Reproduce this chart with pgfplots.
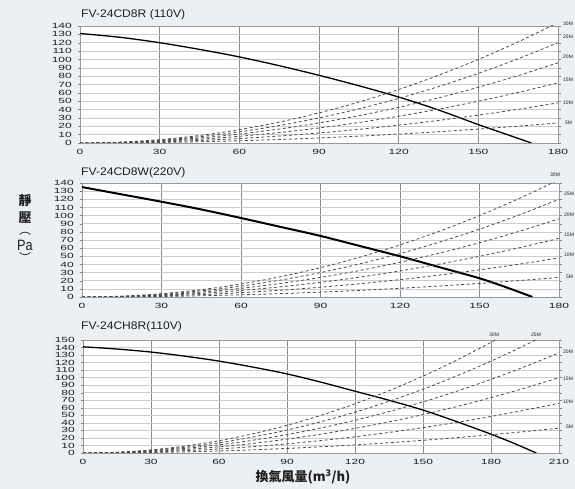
\documentclass[border=0pt]{standalone}
\usepackage{pgfplots}
\pgfplotsset{compat=1.18}
\usepackage{fontspec}
\setmainfont{Liberation Sans}
\newfontfamily\cjk{Noto Sans CJK TC}

\definecolor{bg}{RGB}{237,240,243}
\definecolor{gridh}{RGB}{205,205,205}
\definecolor{gridv}{RGB}{140,140,140}
\definecolor{txt}{RGB}{30,30,30}
\definecolor{dsh}{RGB}{75,75,75}

\pgfplotsset{
  fan/.style={
    scale only axis, anchor=south west,
    axis background/.style={fill=white},
    axis line style={draw=gray!80},
    grid=major,
    x grid style={gridv, line width=0.5pt},
    y grid style={gridh, line width=0.5pt},
    tick align=outside, major tick length=2.5pt,
    xtick style={draw=none},
    ytick style={draw=gray, thin},
    /pgf/number format/assume math mode=true,
    ticklabel style={font=\fontsize{7.5}{8}\selectfont, xscale=1.6, text=txt},
    xmin=0, ymin=0,
  },
  pipe/.style={dsh, line width=0.8pt, dash pattern=on 3pt off 2.5pt, smooth},
  pq/.style={black, line width=1.3pt, smooth},
}

\begin{document}
\begin{tikzpicture}[x=1pt, y=1pt]
\fill[bg] (0,0) rectangle (575,489);

% ---- FV-24CD8R (110V)
\begin{axis}[fan, at={(80pt,346pt)}, width=478pt, height=117pt,
  xmax=180, ymax=140, xtick={0,30,...,180}, ytick={0,10,...,140}]
  \addplot[pq] coordinates {(0,131) (15,126.5) (30,120) (45,112) (60,103) (75,92.5) (90,81) (105,68.5) (120,55) (135,39.5) (150,22) (160,11) (170,0)};
  \addplot[pipe] coordinates {(0,0) (15,0.17) (30,0.67) (45,1.5) (60,2.67) (75,4.17) (90,6) (105,8.17) (120,10.67) (135,13.5) (150,16.67) (165,20.17) (180,24)};
  \addplot[pipe] coordinates {(0,0) (15,0.33) (30,1.33) (45,3) (60,5.33) (75,8.33) (90,12) (105,16.33) (120,21.33) (135,27) (150,33.33) (165,40.33) (180,48)};
  \addplot[pipe] coordinates {(0,0) (15,0.5) (30,2) (45,4.5) (60,8) (75,12.5) (90,18) (105,24.5) (120,32) (135,40.5) (150,50) (165,60.5) (180,72)};
  \addplot[pipe] coordinates {(0,0) (15,0.67) (30,2.67) (45,6) (60,10.67) (75,16.67) (90,24) (105,32.67) (120,42.67) (135,54) (150,66.67) (165,80.67) (180,96)};
  \addplot[pipe] coordinates {(0,0) (15,0.83) (30,3.33) (45,7.5) (60,13.33) (75,20.83) (90,30) (105,40.83) (120,53.33) (135,67.5) (150,83.33) (165,100.83) (180,120)};
  \addplot[pipe] coordinates {(0,0) (15,1) (30,4) (45,9) (60,16) (75,25) (90,36) (105,49) (120,64) (135,81) (150,100) (165,121) (180,144)};
\end{axis}

% ---- FV-24CD8W(220V)
\begin{axis}[fan, at={(82pt,192pt)}, width=477pt, height=114pt,
  xmax=180, ymax=140, xtick={0,30,...,180}, ytick={0,10,...,140}]
  \addplot[pq, line width=2pt] coordinates {(0,135) (15,126) (30,117) (45,107.5) (60,97) (75,86) (90,75) (105,62.5) (120,50) (135,36.5) (150,23) (160,12) (170,0)};
  \addplot[pipe] coordinates {(0,0) (15,0.17) (30,0.67) (45,1.5) (60,2.67) (75,4.17) (90,6) (105,8.17) (120,10.67) (135,13.5) (150,16.67) (165,20.17) (180,24)};
  \addplot[pipe] coordinates {(0,0) (15,0.33) (30,1.33) (45,3) (60,5.33) (75,8.33) (90,12) (105,16.33) (120,21.33) (135,27) (150,33.33) (165,40.33) (180,48)};
  \addplot[pipe] coordinates {(0,0) (15,0.5) (30,2) (45,4.5) (60,8) (75,12.5) (90,18) (105,24.5) (120,32) (135,40.5) (150,50) (165,60.5) (180,72)};
  \addplot[pipe] coordinates {(0,0) (15,0.67) (30,2.67) (45,6) (60,10.67) (75,16.67) (90,24) (105,32.67) (120,42.67) (135,54) (150,66.67) (165,80.67) (180,96)};
  \addplot[pipe] coordinates {(0,0) (15,0.83) (30,3.33) (45,7.5) (60,13.33) (75,20.83) (90,30) (105,40.83) (120,53.33) (135,67.5) (150,83.33) (165,100.83) (180,120)};
  \addplot[pipe] coordinates {(0,0) (15,1) (30,4) (45,9) (60,16) (75,25) (90,36) (105,49) (120,64) (135,81) (150,100) (165,121) (180,144)};
\end{axis}

% ---- FV-24CH8R(110V)
\begin{axis}[fan, at={(83pt,36pt)}, width=476pt, height=113pt,
  xmax=210, ymax=150, xtick={0,30,...,210}, ytick={0,10,...,150}]
  \addplot[pq] coordinates {(0,141) (15,138) (30,134) (45,128.5) (60,122) (75,114) (90,105) (105,94) (120,82) (135,70) (150,57) (165,41.5) (180,25) (190,13) (200,0)};
  \addplot[pipe] coordinates {(0,0) (15,0.17) (30,0.67) (45,1.52) (60,2.69) (75,4.21) (90,6.06) (105,8.25) (120,10.78) (135,13.64) (150,16.84) (165,20.37) (180,24.24) (195,28.45) (210,33)};
  \addplot[pipe] coordinates {(0,0) (15,0.34) (30,1.35) (45,3.03) (60,5.39) (75,8.42) (90,12.12) (105,16.5) (120,21.55) (135,27.28) (150,33.67) (165,40.74) (180,48.49) (195,56.91) (210,66)};
  \addplot[pipe] coordinates {(0,0) (15,0.51) (30,2.04) (45,4.59) (60,8.16) (75,12.76) (90,18.37) (105,25) (120,32.65) (135,41.33) (150,51.02) (165,61.73) (180,73.47) (195,86.22) (210,100)};
  \addplot[pipe] coordinates {(0,0) (15,0.68) (30,2.71) (45,6.1) (60,10.85) (75,16.97) (90,24.43) (105,33.25) (120,43.42) (135,54.97) (150,67.86) (165,82.1) (180,97.72) (195,114.67) (210,133)};
  \addplot[pipe] coordinates {(0,0) (15,0.85) (30,3.39) (45,7.62) (60,13.55) (75,21.18) (90,30.49) (105,41.5) (120,54.2) (135,68.61) (150,84.69) (165,102.47) (180,121.96) (195,143.13) (210,166)};
  \addplot[pipe] coordinates {(0,0) (15,1.02) (30,4.08) (45,9.18) (60,16.32) (75,25.52) (90,36.74) (105,50) (120,65.3) (135,82.66) (150,102.04) (165,123.46) (180,146.94) (195,172.44) (210,200)};
\end{axis}

% titles
\begin{scope}[every node/.style={anchor=west, text=txt, font=\fontsize{11}{12}\selectfont, xscale=1.1, inner sep=0pt}]
  \node at (81,474) {FV-24CD8R (110V)};
  \node at (81,316) {FV-24CD8W(220V)};
  \node at (81,162) {FV-24CH8R(110V)};
\end{scope}

% duct length labels
\begin{scope}[every node/.style={anchor=west, text=txt, font=\fontsize{5}{6}\selectfont, inner sep=0pt}]
  \node at (563,465) {30M}; \node at (563,452) {25M}; \node at (563,432) {20M};
  \node at (563,409) {15M}; \node at (563,386) {10M}; \node at (565,366) {5M};
  \node at (550,314) {30M}; \node at (564,295) {25M}; \node at (564,274) {20M};
  \node at (564,254) {15M}; \node at (564,234) {10M}; \node at (566,212) {5M};
  \node at (489,154) {30M}; \node at (531,154) {25M}; \node at (563,137) {20M};
  \node at (563,110) {15M}; \node at (563,87) {10M}; \node at (566,62) {5M};
\end{scope}

% axis labels
\begin{scope}[every node/.style={text=txt, inner sep=0pt}]
  \node[font=\cjk\bfseries\fontsize{13}{13}\selectfont] at (25,288) {靜};
  \node[font=\cjk\bfseries\fontsize{13}{13}\selectfont] at (25,271) {壓};
  \node[font=\cjk\fontsize{12}{12}\selectfont] at (25,255) {︵};
  \node[font=\fontsize{15}{15}\selectfont, xscale=0.85] at (25,244) {Pa};
  \node[font=\cjk\fontsize{12}{12}\selectfont] at (25,231) {︶};
  \node[font=\cjk\bfseries\fontsize{13}{13}\selectfont] at (303,12) {換氣風量(m\textsuperscript{3}/h)};
\end{scope}

\pgfresetboundingbox
\path[use as bounding box] (0,0) rectangle (575,489);
\end{tikzpicture}
\end{document}
